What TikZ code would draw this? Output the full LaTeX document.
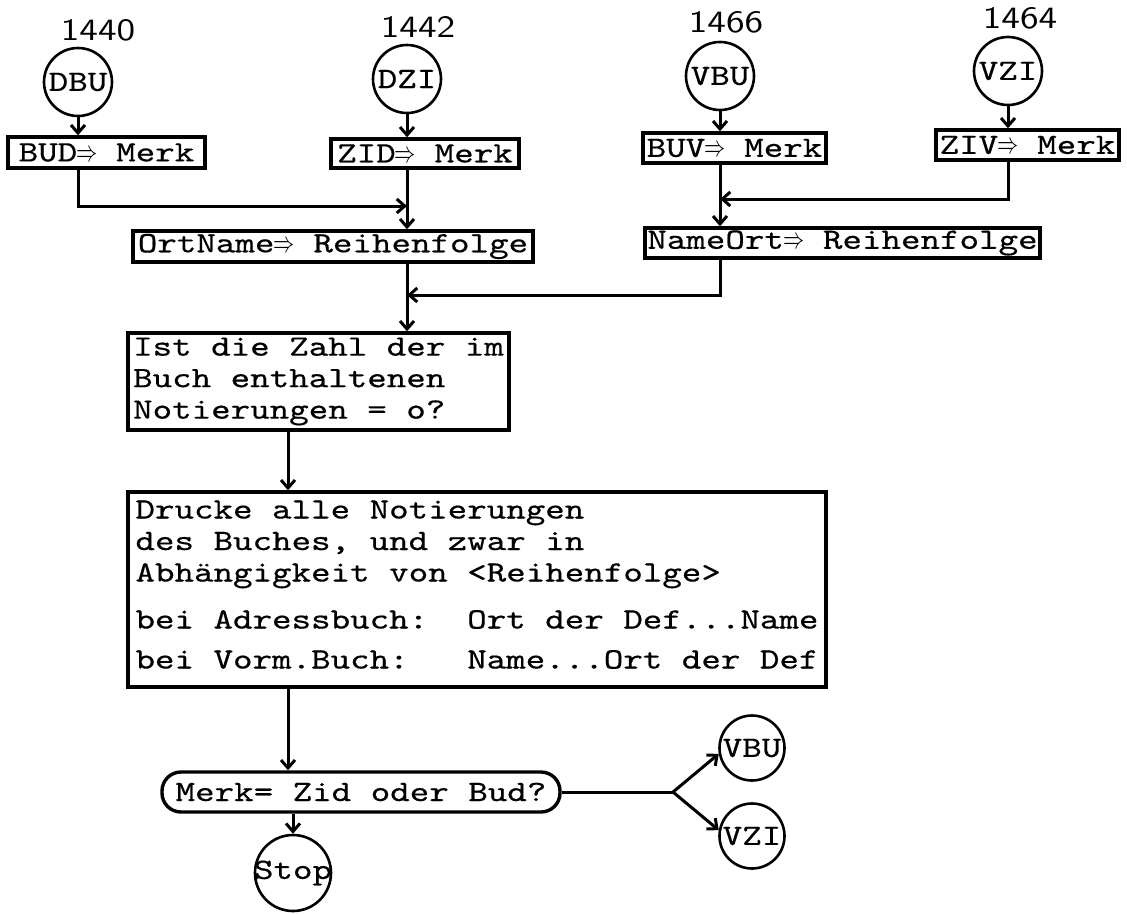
\documentclass[tikz,border=0pt]{standalone}
\usepackage{fontspec}
\usepackage{graphicx}
\usetikzlibrary{arrows.meta}
\newfontfamily\tw{lmmono10-regular.otf}[FakeStretch=1.26,FakeBold=0.5]
\newfontfamily\labfont{lmsans10-regular.otf}[FakeStretch=1.2]
\newcommand\dra{\makebox[0.661em][c]{\scalebox{0.85}[1.2]{$\Rightarrow$}}}
\tikzset{
  every node/.style={font=\tw\fontsize{29.5}{31.5}\selectfont, inner sep=0pt},
  box/.style={draw, line width=3.4pt, rectangle},
  circ/.style={draw, circle, line width=2.6pt, minimum size=68pt},
  lab/.style={font=\labfont\fontsize{31}{31}\selectfont},
  arr/.style={line width=3pt, -{Straight Barb[length=8pt,width=14pt]}},
  ln/.style={line width=3pt},
}
\begin{document}
\begin{tikzpicture}[x=1pt,y=-1pt]
\useasboundingbox (0,0) rectangle (1127,913);
% labels
\node[lab] (l1440) at (98,30) {1440};
\node[lab] (l1442) at (418,27) {1442};
\node[lab] (l1466) at (726,22) {1466};
\node[lab] (l1464) at (1020,18) {1464};
% top circles
\node[circ] (dbu) at (78,82) {DBU};
\node[circ] (dzi) at (407,79) {DZI};
\node[circ] (vbu) at (720,76) {VBU};
\node[circ] (vzi) at (1008,71) {VZI};
% boxes
\node[box, minimum width=197pt, minimum height=31pt] (bud) at (106.5,152.5) {BUD\dra\ Merk};
\node[box, minimum width=188pt, minimum height=29pt] (zid) at (425,153.5) {ZID\dra\ Merk};
\node[box, minimum width=183pt, minimum height=30pt] (buv) at (734.5,148) {BUV\dra\ Merk};
\node[box, minimum width=183pt, minimum height=30pt] (ziv) at (1027.5,145) {ZIV\dra\ Merk};
\node[box, minimum width=400pt, minimum height=31pt] (ort) at (333,246.5) {OrtName\dra\ Reihenfolge};
\node[box, minimum width=395pt, minimum height=30pt] (nam) at (842.5,243) {NameOrt\dra\ Reihenfolge};
\node[box, align=left, minimum width=381pt, minimum height=97pt] (ist) at (318.5,381.5)
  {Ist die Zahl der im\\Buch enthaltenen\\Notierungen = o?};
\node[box, align=left, minimum width=698pt, minimum height=195pt] (dru) at (477,589.5)
  {Drucke alle Notierungen\\des Buches, und zwar in\\Abhängigkeit von <Reihenfolge>\\[15.5pt]bei Adressbuch:~~Ort der Def...Name\\[8.5pt]bei Vorm.Buch:~~~Name...Ort der Def\rule[-10pt]{0pt}{10pt}};
\node[box, rounded corners=19pt, minimum width=398pt, minimum height=40pt] (merk) at (361,792) {Merk= Zid oder Bud?};
\node[draw, circle, line width=2.6pt, minimum size=76pt] (stop) at (293,873) {};
\node (stoptxt) at (stop) {Stop};
\node[circ, minimum size=65pt] (vbu2) at (752,748) {VBU};
\node[circ, minimum size=65pt] (vzi2) at (752,836) {VZI};
% junctions
\coordinate (j1) at (407,206);
\coordinate (j2) at (720,199);
\coordinate (j3) at (407,295);
\coordinate (c1) at (288,0);
\coordinate (br) at (673,792);
% connectors
\draw[arr] (dbu) -- (dbu |- bud.north);
\draw[arr] (dzi) -- (dzi |- zid.north);
\draw[arr] (vbu) -- (vbu |- buv.north);
\draw[arr] (vzi) -- (vzi |- ziv.north);
\draw[arr] (dbu |- bud.south) -- (dbu |- j1) -- (j1);
\draw[arr] (dzi |- zid.south) -- (dzi |- ort.north);
\draw[arr] (vzi |- ziv.south) -- (vzi |- j2) -- (j2);
\draw[arr] (vbu |- buv.south) -- (vbu |- nam.north);
\draw[arr] (vbu |- nam.south) -- (vbu |- j3) -- (j3);
\draw[arr] (dzi |- ort.south) -- (dzi |- ist.north);
\draw[arr] (c1 |- ist.south) -- (c1 |- dru.north);
\draw[arr] (c1 |- dru.south) -- (c1 |- merk.north);
\draw[arr] (stop |- merk.south) -- (stop);
\draw[ln] (merk) -- (br);
\draw[arr] (br) -- (vbu2.190);
\draw[arr] (br) -- (vzi2.170);
\end{tikzpicture}
\end{document}
